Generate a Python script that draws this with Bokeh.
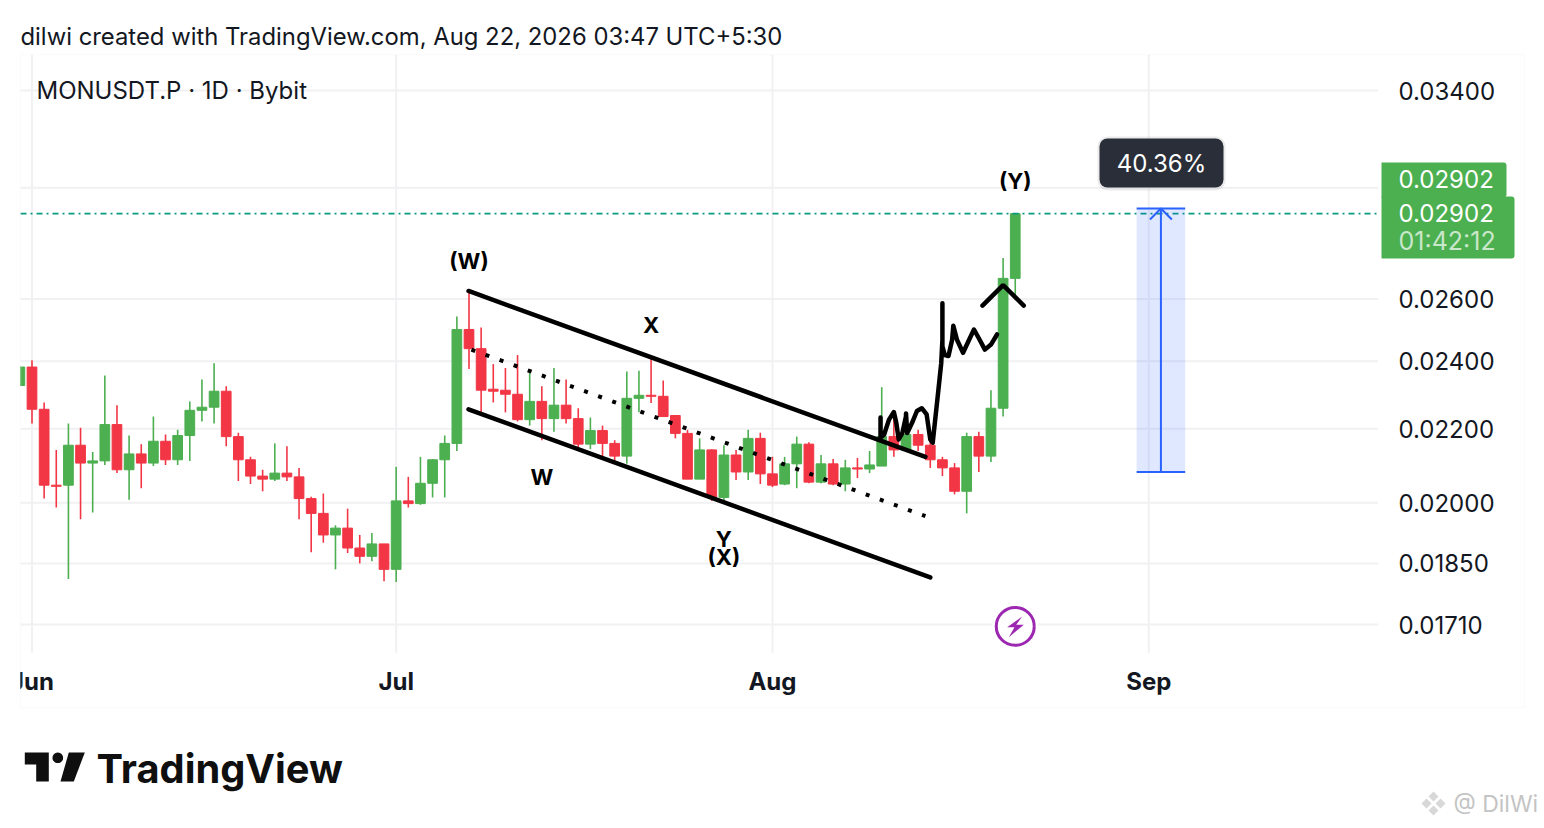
import math
from bokeh.plotting import figure
from bokeh.embed import file_html
from bokeh.resources import INLINE
from bokeh.core.properties import value
from bokeh.models import (Range1d, FixedTicker, Label, BoxAnnotation, PolyAnnotation,
                          PrintfTickFormatter, ColumnDataSource)

# ---- candles: day offset from 1 June
days = list(range(-1, 82))
opens = [0.02326,0.02382,0.02256,0.02046,0.02046,0.02154,0.02105,0.02111,0.02212,0.02087,0.02130,0.02105,0.02165,0.02114,0.02181,0.02253,0.02262,0.02309,0.02178,0.02114,0.02070,0.02062,0.02078,0.02068,0.02011,0.01973,0.01919,0.01936,0.01887,0.01867,0.01897,0.01836,0.02005,0.01998,0.02051,0.02114,0.02159,0.02500,0.02439,0.02315,0.02312,0.02300,0.02226,0.02279,0.02229,0.02268,0.02229,0.02157,0.02195,0.02159,0.02124,0.02288,0.02297,0.02294,0.02238,0.02187,0.02062,0.02141,0.02014,0.02127,0.02081,0.02173,0.02076,0.02049,0.02103,0.02157,0.02054,0.02103,0.02049,0.02092,0.02089,0.02097,0.02178,0.02141,0.02184,0.02154,0.02114,0.02092,0.02030,0.02178,0.02124,0.02259,0.02670]
highs = [0.02382,0.02403,0.02276,0.02141,0.02215,0.02203,0.02135,0.02356,0.02268,0.02181,0.02157,0.02235,0.02184,0.02197,0.02279,0.02344,0.02394,0.02324,0.02189,0.02122,0.02087,0.02159,0.02151,0.02092,0.02016,0.02024,0.01943,0.01985,0.01919,0.01924,0.01897,0.02095,0.02068,0.02122,0.02116,0.02181,0.02542,0.02627,0.02506,0.02391,0.02379,0.02419,0.02365,0.02324,0.02379,0.02344,0.02259,0.02232,0.02209,0.02168,0.02368,0.02371,0.02410,0.02341,0.02238,0.02197,0.02173,0.02143,0.02154,0.02141,0.02197,0.02189,0.02122,0.02122,0.02178,0.02162,0.02127,0.02116,0.02114,0.02119,0.02138,0.02321,0.02232,0.02226,0.02197,0.02165,0.02122,0.02105,0.02189,0.02192,0.02312,0.02741,0.02902]
lows = [0.02326,0.02215,0.02011,0.01988,0.01813,0.01958,0.01975,0.02100,0.02078,0.02008,0.02038,0.02097,0.02100,0.02100,0.02111,0.02221,0.02215,0.02151,0.02057,0.02049,0.02030,0.02057,0.02057,0.01958,0.01877,0.01900,0.01836,0.01875,0.01850,0.01855,0.01808,0.01806,0.01988,0.01995,0.02014,0.02014,0.02138,0.02376,0.02238,0.02276,0.02247,0.02221,0.02209,0.02168,0.02192,0.02215,0.02138,0.02143,0.02124,0.02108,0.02103,0.02247,0.02274,0.02235,0.02173,0.02062,0.02062,0.02005,0.02003,0.02060,0.02060,0.02049,0.02041,0.02046,0.02038,0.02051,0.02051,0.02046,0.02030,0.02065,0.02078,0.02097,0.02122,0.02141,0.02138,0.02092,0.02070,0.02022,0.01973,0.02081,0.02108,0.02235,0.02597]
closes = [0.02382,0.02256,0.02046,0.02043,0.02154,0.02105,0.02111,0.02212,0.02087,0.02130,0.02105,0.02165,0.02114,0.02181,0.02253,0.02262,0.02309,0.02178,0.02114,0.02070,0.02062,0.02078,0.02068,0.02011,0.01973,0.01919,0.01936,0.01887,0.01867,0.01897,0.01836,0.02005,0.01998,0.02051,0.02114,0.02159,0.02500,0.02439,0.02312,0.02309,0.02300,0.02226,0.02279,0.02229,0.02268,0.02229,0.02157,0.02195,0.02159,0.02124,0.02288,0.02297,0.02294,0.02235,0.02187,0.02062,0.02141,0.02014,0.02127,0.02081,0.02173,0.02076,0.02046,0.02103,0.02157,0.02054,0.02103,0.02049,0.02092,0.02089,0.02100,0.02178,0.02141,0.02184,0.02154,0.02114,0.02092,0.02030,0.02178,0.02124,0.02259,0.02670,0.02902]

price_ticks = [0.034, 0.026, 0.024, 0.022, 0.020, 0.0185, 0.0171]
grid_ticks = price_ticks + [0.030]
date_ticks = [0, 30, 61, 92]
date_labels = {0: "Jun", 30: "Jul", 61: "Aug", 92: "Sep"}
last_price = 0.02902

# ---- drawings, in day / price
upper_days = [35.96, 73.6];  upper_prices = [0.02627, 0.02122]
lower_days = [35.96, 74.0];  lower_prices = [0.02256, 0.01817]
dotted_days = [36.2, 73.6];  dotted_prices = [0.02436, 0.01966]
squiggle_days = [69.9,69.9,70.2,70.6,71.0,71.2,71.4,71.7,72.0,72.0,72.1,72.5,72.9,73.3,73.7,74.0,74.2,74.6,74.9,75.0,75.0,75.0,75.2,75.5,75.8,75.9,76.2,76.7,77.2,77.6,78.0,78.5,79.0,79.5]
squiggle_prices = [0.02232,0.02175,0.02184,0.02226,0.02248,0.02217,0.02170,0.02188,0.02236,0.02244,0.02188,0.02217,0.02251,0.02259,0.02241,0.02170,0.02161,0.02290,0.02393,0.02467,0.02586,0.02446,0.02419,0.02416,0.02467,0.02512,0.02467,0.02426,0.02467,0.02500,0.02472,0.02436,0.02452,0.02484]
chevron_days = [78.3, 80.0, 81.7];  chevron_prices = [0.02578, 0.02647, 0.02578]
wave_texts = ["(W)", "X", "W", "Y", "(X)", "(Y)"]
wave_days = [36, 51, 42, 57, 57, 81]
wave_prices = [0.02732, 0.02513, 0.02068, 0.01909, 0.01865, 0.03028]
measure_days = [91, 95, 93];  measure_low = 0.02081;  measure_high = 0.02921
head_days = [92.1, 93, 93.9];  head_prices = [0.02880, 0.02921, 0.02880]
bolt_day = 81;  bolt_price = 0.01706

FONT = "Inter"
INK = "#131722"
GREEN = "#4caf50"
RED = "#f23645"
BLUE = "#2962ff"
GRID = "#f1f1f3"

W, H = 1544, 828
# visible chart area within the page, in days and prices
X0, X1 = -0.947, 110.9
Y0, Y1 = 0.01649, 0.03561

# the scales span the whole page so that everything can sit on top of the chart
p = figure(width=W, height=H, output_backend="svg", toolbar_location=None,
           y_axis_type="log", y_axis_location="right",
           x_range=Range1d(-2.595, 124.6), y_range=Range1d(0.013152, 0.03818),
           min_border_left=0, min_border_right=0, min_border_top=0, min_border_bottom=0)
p.outline_line_color = None
p.background_fill_color = "white"

# axes and grid
ax = p.yaxis[0]
ax.ticker = FixedTicker(ticks=price_ticks)
ax.formatter = PrintfTickFormatter(format="%.5f")
ax.axis_line_color = None
ax.major_tick_line_color = None
ax.minor_tick_line_color = None
ax.major_tick_out = 0
ax.major_label_text_font = FONT
ax.major_label_text_font_size = "24px"
ax.major_label_text_color = INK
ax.major_label_standoff = -146
xa = p.xaxis[0]
xa.ticker = FixedTicker(ticks=date_ticks)
xa.major_label_overrides = date_labels
xa.axis_line_color = None
xa.major_tick_line_color = None
xa.minor_tick_line_color = None
xa.major_tick_out = 0
xa.major_label_text_font = FONT
xa.major_label_text_font_style = "bold"
xa.major_label_text_font_size = "24px"
xa.major_label_text_color = INK
xa.major_label_standoff = -162
p.ygrid[0].grid_line_color = None
p.xgrid[0].grid_line_color = None
p.segment(date_ticks, [Y0] * len(date_ticks), date_ticks, [Y1] * len(date_ticks),
          line_color=GRID, line_width=2, level="underlay")
p.segment([X0] * len(grid_ticks), grid_ticks, [X1] * len(grid_ticks), grid_ticks,
          line_color=GRID, line_width=2, level="underlay")

# candles
colors = [GREEN if c >= o else RED for o, c in zip(opens, closes)]
src = ColumnDataSource(dict(day=days, open=opens, high=highs, low=lows, close=closes, color=colors))
p.segment("day", "high", "day", "low", source=src, color="color", line_width=1.6)
p.vbar("day", 0.8, "open", "close", source=src, fill_color="color", line_color="color", line_width=1)

# last price line
p.line([X0, X1], [last_price, last_price], line_color="#089981", line_width=1.6, line_dash="6 4 2 4")

# drawings
black = dict(line_color="black", line_width=4.5, line_cap="round")
p.line(upper_days, upper_prices, **black)
p.line(lower_days, lower_prices, **black)
p.line(dotted_days, dotted_prices, line_color="black", line_width=4, line_dash="4 11")
p.line(squiggle_days, squiggle_prices, line_join="round", **black)
p.line(chevron_days, chevron_prices, **black)
p.text(wave_days, wave_prices, text=wave_texts, text_align="center", text_baseline="middle",
       text_font=value(FONT), text_font_style="bold", text_font_size="22px", text_color="black")

# measure tool
p.quad(left=[measure_days[0]], right=[measure_days[1]], bottom=[measure_low], top=[measure_high],
       fill_color=BLUE, fill_alpha=0.15, line_color=None)
p.segment(x0=[measure_days[0]] * 2, x1=[measure_days[1]] * 2, y0=[measure_low, measure_high],
          y1=[measure_low, measure_high], line_color=BLUE, line_width=2)
p.segment(x0=[measure_days[2]], x1=[measure_days[2]], y0=[measure_low], y1=[measure_high],
          line_color=BLUE, line_width=2)
p.line(head_days, head_prices, line_color=BLUE, line_width=2)

# bolt marker
p.scatter([bolt_day], [bolt_price], size=46, marker="circle", fill_color="white", line_color=None)
p.scatter([bolt_day], [bolt_price], size=38, marker="circle", fill_color="white", line_color="#9c27b0", line_width=3)


def box(left, right, top, bottom, **kw):
    b = BoxAnnotation(left=left, right=right, top=top, bottom=bottom,
                      left_units="canvas", right_units="canvas", top_units="canvas", bottom_units="canvas",
                      **kw)
    p.add_layout(b)
    return b


def poly(xs, ys, color):
    p.add_layout(PolyAnnotation(xs=list(xs), ys=list(ys), xs_units="canvas", ys_units="canvas",
                                fill_color=color, fill_alpha=1.0, line_color=None))


def text(x, y, s, size=24.0, color=INK, style="normal", align="left", **kw):
    p.add_layout(Label(x=x, y=y, x_units="canvas", y_units="canvas", text=s,
                       text_font=FONT, text_font_size=f"{size}px", text_color=color,
                       text_font_style=style, text_align=align, text_baseline="middle", **kw))


# left cut of the chart and frame around it
box(0, 19.5, 54, 707, fill_color="white", fill_alpha=1, line_color=None)
box(20, 1524, 54, 707, fill_alpha=0, line_color=GRID, line_width=1.5)

# bolt glyph
poly([1021.7, 1006.7, 1014, 1008.3, 1023.3, 1015.7], [616, 626.7, 626.7, 636.7, 624.3, 624.3], "#9c27b0")

# tooltip
box(1097, 1225, 136, 190, fill_color="#000000", fill_alpha=0.08, line_color=None, border_radius=10)
box(1099, 1223, 138, 187, fill_color="#2a2e39", fill_alpha=1, line_color=None, border_radius=8)
text(1161, 163, "40.36%", color="white", align="center")

# price labels
radius = dict(top_left=0, top_right=3, bottom_right=3, bottom_left=0)
box(1381, 1506, 162, 197, fill_color=GREEN, fill_alpha=1, line_color=None, border_radius=radius)
box(1381, 1514, 196, 258, fill_color=GREEN, fill_alpha=1, line_color=None, border_radius=radius)
text(1398, 178.5, "0.02902", color="white")
text(1398, 212.5, "0.02902", color="white")
text(1398, 240.5, "01:42:12", color="#c9e7ca", size=25)

# header and legend
text(20, 36, "dilwi created with TradingView.com, Aug 22, 2026 03:47 UTC+5:30", size=23.85)
text(36, 90, "MONUSDT.P · 1D · Bybit")

# TradingView logo
poly([24.3, 48.3, 48.3, 35.7, 35.7, 24.3], [752, 752, 781, 781, 764, 764], "#0f0f0f")
a = [i * math.pi / 12 for i in range(24)]
poly([57.3 + 5.3 * math.cos(t) for t in a], [757.3 + 5.3 * math.sin(t) for t in a], "#0f0f0f")
poly([68.3, 84.3, 73.3, 60], [752, 752, 781, 781], "#0f0f0f")
text(96, 767.5, "TradingView", size=39.8, color="#0f0f0f", style="bold")

# watermark
d = [(1433, 796), (1426, 803), (1440, 803), (1433, 810)]
for dx, dy in d:
    poly([dx, dx + 5, dx, dx - 5], [dy - 5, dy, dy + 5, dy], "#d8d8d8")
text(1453, 803, "@ DilWi", size=23, color="#c4c4c4")

open("out.html", "w").write(file_html(p, INLINE))
